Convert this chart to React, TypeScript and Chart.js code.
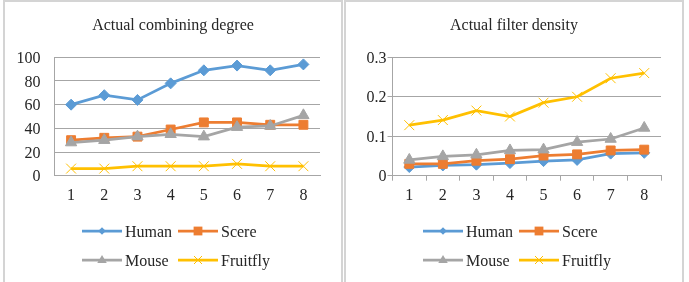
import React, { useEffect, useRef } from 'react';
import { Chart, registerables } from 'chart.js';

Chart.register(...registerables);

// ---- data ----
const categories = ['1', '2', '3', '4', '5', '6', '7', '8'];

const seriesNames = ['Human', 'Scere', 'Mouse', 'Fruitfly'];
const seriesColors = ['#5B9BD5', '#ED7D31', '#A5A5A5', '#FFC000'];

const combiningHuman = [60, 68, 64, 78, 89, 93, 89, 94];
const combiningScere = [30, 32, 33, 39, 45, 45, 43, 43];
const combiningMouse = [28, 30, 33, 35, 33, 41, 42, 51];
const combiningFruitfly = [6, 6, 8, 8, 8, 10, 8, 8];
const combiningTicks = [0, 20, 40, 60, 80, 100];

const densityHuman = [0.022, 0.026, 0.028, 0.032, 0.037, 0.04, 0.056, 0.058];
const densityScere = [0.03, 0.03, 0.038, 0.042, 0.051, 0.054, 0.064, 0.066];
const densityMouse = [0.04, 0.049, 0.053, 0.064, 0.066, 0.085, 0.093, 0.121];
const densityFruitfly = [0.128, 0.141, 0.165, 0.15, 0.185, 0.2, 0.247, 0.26];
const densityTicks = [0, 0.1, 0.2, 0.3];

// ---- styling ----
const FONT = '"Liberation Serif", "Times New Roman", serif';
const TEXT = '#262626';
const GRID = '#A6A6A6';
const pointStyles = ['rectRot', 'rect', 'triangle', 'crossRot'];
const pointRadii = [5.5, 6.3, 6.5, 7];
const legendMarkerSize = [3.8, 4.4, 5, 4];

function drawMarker(ctx: CanvasRenderingContext2D, kind: number, x: number, y: number, color: string) {
  const s = legendMarkerSize[kind];
  ctx.save();
  ctx.fillStyle = color;
  ctx.strokeStyle = color;
  ctx.lineWidth = 1;
  ctx.beginPath();
  if (kind === 0) {
    ctx.moveTo(x - s, y);
    ctx.lineTo(x, y - s);
    ctx.lineTo(x + s, y);
    ctx.lineTo(x, y + s);
    ctx.closePath();
    ctx.fill();
  } else if (kind === 1) {
    ctx.rect(x - s, y - s, 2 * s, 2 * s);
    ctx.fill();
  } else if (kind === 2) {
    ctx.moveTo(x, y - s);
    ctx.lineTo(x + s * 0.95, y + s * 0.6);
    ctx.lineTo(x - s * 0.95, y + s * 0.6);
    ctx.closePath();
    ctx.fill();
  } else {
    ctx.moveTo(x - s, y - s);
    ctx.lineTo(x + s, y + s);
    ctx.moveTo(x + s, y - s);
    ctx.lineTo(x - s, y + s);
    ctx.stroke();
  }
  ctx.restore();
}

// Title above the plot and a two-column legend below it
const decorPlugin = {
  id: 'panelDecor',
  afterDraw(chart: any) {
    const ctx: CanvasRenderingContext2D = chart.ctx;
    const opts = chart.options.plugins.panelDecor;
    const cx = chart.width / 2;
    ctx.save();
    ctx.fillStyle = TEXT;
    ctx.font = `16px ${FONT}`;
    ctx.textAlign = 'center';
    ctx.textBaseline = 'middle';
    ctx.fillText(opts.title, cx, 24);

    const cols = [cx - 91, cx + 5];
    const rows = [229, 258];
    chart.data.datasets.forEach((ds: any, i: number) => {
      const x0 = cols[i % 2];
      const y = rows[Math.floor(i / 2)];
      ctx.strokeStyle = ds.borderColor;
      ctx.lineWidth = 2.75;
      ctx.beginPath();
      ctx.moveTo(x0, y);
      ctx.lineTo(x0 + 40, y);
      ctx.stroke();
      drawMarker(ctx, i, x0 + 20, y, ds.borderColor);
      ctx.fillStyle = TEXT;
      ctx.textAlign = 'left';
      ctx.textBaseline = 'middle';
      ctx.fillText(ds.label, x0 + 43, y + 1.5);
    });
    ctx.restore();
  },
};

type PanelProps = {
  title: string;
  series: number[][];
  ticks: number[];
  axisWidth: number;
  tickMarks: boolean;
};

function Panel({ title, series, ticks, axisWidth, tickMarks }: PanelProps) {
  const ref = useRef<HTMLCanvasElement>(null);

  useEffect(() => {
    if (!ref.current) return;
    const chart = new Chart(ref.current, {
      type: 'line',
      data: {
        labels: categories,
        datasets: series.map((values, i) => ({
          label: seriesNames[i],
          data: values,
          borderColor: seriesColors[i],
          backgroundColor: seriesColors[i],
          pointBackgroundColor: seriesColors[i],
          pointBorderColor: seriesColors[i],
          pointBorderWidth: 1,
          pointStyle: pointStyles[i] as any,
          pointRadius: pointRadii[i],
          borderWidth: 2.75,
          tension: 0,
          order: 4 - i,
          clip: false as any,
        })),
      },
      options: {
        animation: false,
        responsive: false,
        maintainAspectRatio: false,
        layout: { padding: { left: 0, right: 21, top: 55.3, bottom: 70.3 } },
        plugins: {
          legend: { display: false },
          title: { display: false },
          tooltip: { enabled: false },
          panelDecor: { title },
        } as any,
        scales: {
          x: {
            offset: true,
            grid: {
              display: tickMarks,
              drawOnChartArea: false,
              drawTicks: tickMarks,
              tickLength: 5,
              offset: true,
              color: GRID,
            },
            border: { display: true, color: GRID, width: 1 },
            ticks: {
              color: TEXT,
              font: { family: FONT, size: 16 },
              padding: tickMarks ? 5.5 : 10.5,
              maxRotation: 0,
            },
            afterFit: (scale: any) => {
              scale.height = 36;
            },
          },
          y: {
            min: ticks[0],
            max: ticks[ticks.length - 1],
            grid: {
              color: GRID,
              drawTicks: tickMarks,
              tickLength: 5,
            },
            border: { display: true, color: GRID, width: 1 },
            ticks: {
              color: TEXT,
              font: { family: FONT, size: 16 },
              padding: tickMarks ? 1 : 14,
              labelOffset: 1.5,
            },
            afterBuildTicks: (scale: any) => {
              scale.ticks = ticks.map((v) => ({ value: v }));
            },
            afterFit: (scale: any) => {
              scale.width = axisWidth;
            },
          },
        },
      },
      plugins: [decorPlugin],
    });
    return () => chart.destroy();
  }, [title, series, ticks, axisWidth, tickMarks]);

  return <canvas ref={ref} width={336} height={280} style={{ display: 'block' }} />;
}

const combiningSeries = [combiningHuman, combiningScere, combiningMouse, combiningFruitfly];
const densitySeries = [densityHuman, densityScere, densityMouse, densityFruitfly];

const panelStyle = (left: number): React.CSSProperties => ({
  position: 'absolute',
  left,
  top: 0,
  width: 336,
  height: 290,
  border: '2px solid #D4D4D4',
  background: '#fff',
});

export default function App() {
  return (
    <div
      style={{
        position: 'fixed',
        left: 0,
        top: 0,
        width: 689,
        height: 282,
        overflow: 'hidden',
        background: '#fff',
      }}
    >
      <div style={panelStyle(3)}>
        <Panel
          title="Actual combining degree"
          series={combiningSeries}
          ticks={combiningTicks}
          axisWidth={49.5}
          tickMarks={false}
        />
      </div>
      <div style={panelStyle(344)}>
        <Panel
          title="Actual filter density"
          series={densitySeries}
          ticks={densityTicks}
          axisWidth={46.5}
          tickMarks={true}
        />
      </div>
    </div>
  );
}
